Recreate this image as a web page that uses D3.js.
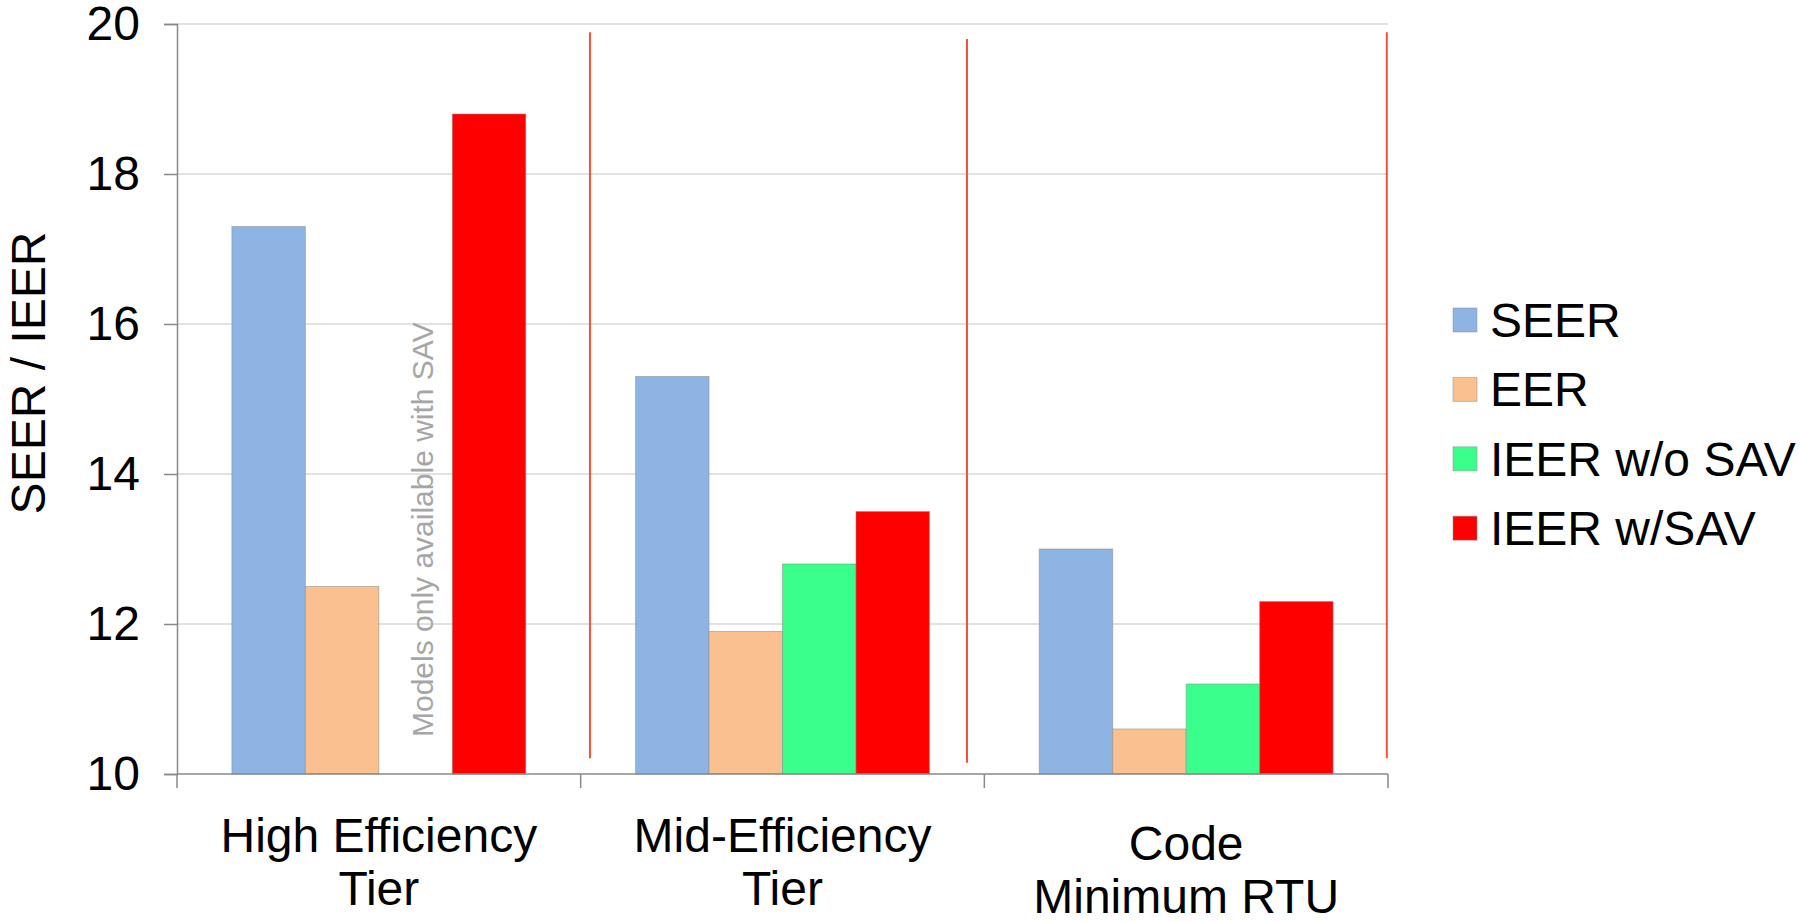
<!DOCTYPE html>
<html>
<head>
<meta charset="utf-8">
<script src="https://cdn.jsdelivr.net/npm/d3@7/dist/d3.min.js"></script>
<style>
  html, body { margin: 0; padding: 0; background: #fff; }
  svg { display: block; font-family: "Liberation Sans", Arial, sans-serif; }
</style>
</head>
<body>
<svg id="chart" width="1800" height="922"></svg>
<script>
// Rating tiers (two-line labels)
const categories = ["High Efficiency|Tier", "Mid-Efficiency|Tier", "Code|Minimum RTU"];
const seriesNames = ["SEER", "EER", "IEER w/o SAV", "IEER w/SAV"];
const seriesColors = ["#8eb4e3", "#fac090", "#3aff8c", "#ff0000"];

// Values per series, one per tier (null = no models in that tier)
const seer      = [17.3, 15.3, 13.0];
const eer       = [12.5, 11.9, 10.6];
const ieerNoSav = [null, 12.8, 11.2];
const ieerSav   = [18.8, 13.5, 12.3];

const yTicks = [10, 12, 14, 16, 18, 20];

// Red divider lines, positioned in tier units (0 = left edge of first tier)
const dividerPos  = [1.023, 1.957, 2.997];
const dividerTop  = [19.89, 19.8, 19.89];
const dividerBot  = [10.21, 10.15, 10.21];

const note = "Models only available with SAV";

const seriesValues = [seer, eer, ieerNoSav, ieerSav];

const svg = d3.select("#chart");
const plot = { left: 177, right: 1388, top: 24, bottom: 774 };
const fontSize = 48;

const x0 = d3.scaleBand().domain(d3.range(categories.length))
  .range([plot.left, plot.right]).padding(0);
const bw = x0.bandwidth();
const x1 = d3.scaleBand().domain(d3.range(seriesNames.length))
  .range([bw * 0.136, bw * 0.864]).padding(0);
const y = d3.scaleLinear().domain([10, 20]).range([plot.bottom, plot.top]);
const xu = d3.scaleLinear().domain([0, categories.length]).range([plot.left, plot.right]);

// Gridlines
svg.append("g").selectAll("line").data(yTicks.filter(t => t > 10)).join("line")
  .attr("x1", plot.left).attr("x2", plot.right)
  .attr("y1", d => y(d)).attr("y2", d => y(d))
  .attr("stroke", "#d9d9d9").attr("stroke-width", 1.5);

// Bars
const groups = svg.append("g").selectAll("g").data(categories).join("g")
  .attr("transform", (d, i) => `translate(${x0(i)},0)`);
groups.selectAll("rect")
  .data((d, ci) => seriesValues.map((vals, si) => ({ si, v: vals[ci] })).filter(o => o.v != null))
  .join("rect")
  .attr("x", d => x1(d.si))
  .attr("width", x1.bandwidth())
  .attr("y", d => y(d.v))
  .attr("height", d => y(10) - y(d.v))
  .attr("fill", d => seriesColors[d.si])
  .attr("stroke", "rgba(140,140,140,0.55)")
  .attr("stroke-width", 1);

// Note in the empty slot of the first tier
{
  const nx = x0(0) + x1(2) + x1.bandwidth() * 0.74;
  svg.append("text")
    .attr("transform", `translate(${nx},${y(10) - 37}) rotate(-90)`)
    .attr("font-size", 30).attr("fill", "#a6a6a6")
    .text(note);
}

// Y axis
const yAxis = svg.append("g").attr("transform", `translate(${plot.left},0)`)
  .call(d3.axisLeft(y).tickValues(yTicks).tickSize(13).tickPadding(24).tickFormat(d3.format("d")));
yAxis.select(".domain").attr("stroke", "#898989").attr("stroke-width", 1.5);
yAxis.selectAll(".tick line").attr("stroke", "#898989").attr("stroke-width", 1.5);
yAxis.selectAll(".tick text").attr("font-size", fontSize).attr("fill", "#000")
  .attr("font-family", "Liberation Sans, Arial, sans-serif");

// X axis line with tier separator ticks
svg.append("line").attr("x1", plot.left).attr("x2", plot.right)
  .attr("y1", plot.bottom).attr("y2", plot.bottom)
  .attr("stroke", "#898989").attr("stroke-width", 1.5);
svg.append("g").selectAll("line").data(d3.range(categories.length + 1)).join("line")
  .attr("x1", d => xu(d)).attr("x2", d => xu(d))
  .attr("y1", plot.bottom).attr("y2", plot.bottom + 14)
  .attr("stroke", "#898989").attr("stroke-width", 1.5);

// Tier labels
const lineOffsets = [0, 0, 8];
svg.append("g").selectAll("text").data(categories).join("text")
  .attr("text-anchor", "middle").attr("font-size", fontSize).attr("fill", "#000")
  .attr("x", (d, i) => x0(i) + bw / 2)
  .attr("y", (d, i) => 852 + lineOffsets[i])
  .each(function(d) {
    const parts = d.split("|");
    const t = d3.select(this);
    const xx = t.attr("x");
    parts.forEach((p, k) => t.append("tspan").attr("x", xx).attr("dy", k === 0 ? 0 : 53).text(p));
  });

// Red divider lines
svg.append("g").selectAll("line").data(dividerPos).join("line")
  .attr("x1", d => xu(d)).attr("x2", d => xu(d))
  .attr("y1", (d, i) => y(dividerTop[i])).attr("y2", (d, i) => y(dividerBot[i]))
  .attr("stroke", "#f4503a").attr("stroke-width", 2);

// Y axis title
svg.append("text")
  .attr("transform", `translate(45,${(plot.top + plot.bottom) / 2 - 26}) rotate(-90)`)
  .attr("text-anchor", "middle").attr("font-size", fontSize).attr("fill", "#000")
  .text("SEER / IEER");

// Legend
const legend = svg.append("g").selectAll("g").data(seriesNames).join("g")
  .attr("transform", (d, i) => `translate(1453,${320 + i * 69.4})`);
legend.append("rect").attr("x", 0).attr("y", -12).attr("width", 24).attr("height", 24)
  .attr("fill", (d, i) => seriesColors[i]).attr("stroke", "rgba(140,140,140,0.5)").attr("stroke-width", 1);
legend.append("text").attr("x", 37).attr("y", 17).attr("font-size", fontSize).attr("fill", "#000")
  .text(d => d);
</script>
</body>
</html>
